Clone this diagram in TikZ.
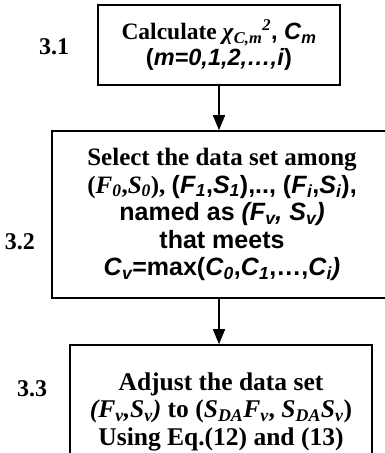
\documentclass[tikz,border=0pt]{standalone}
\usepackage{fontspec}
\setmainfont{Liberation Serif}
\setsansfont{Liberation Sans}
\usetikzlibrary{arrows.meta}
\newcommand\sub[1]{\textsubscript{#1}}
\newcommand\isub[1]{\textsubscript{\itshape #1}}
\begin{document}
\begin{tikzpicture}[x=1pt,y=-1pt,
  box/.style={draw,line width=1.6pt,inner sep=0pt,align=center},
  lab/.style={font=\rmfamily\bfseries\fontsize{24}{28}\selectfont},
  conn/.style={line width=1.6pt,-{Triangle[length=15pt,width=12pt]}}]
\useasboundingbox (0,0) rectangle (385,453);
\clip (0,0) rectangle (385,453);
\node[box,minimum width=242pt,minimum height=80pt,
  font=\bfseries\fontsize{23.5}{25.5}\selectfont] (b1) at (219,45)
  {\rmfamily Calculate \textit{χ}\isub{C,m}\textsuperscript{\itshape 2}\sffamily, \textit{C}\isub{m}\\
   \sffamily(\textit{m=0,1,2,…,i})};
\node[box,minimum width=340pt,minimum height=167pt,
  font=\bfseries\fontsize{25}{27.5}\selectfont] (b2) at (222,214.5)
  {\rmfamily Select the data set among\\
   \rmfamily(\textit{F}\isub{0},\textit{S}\isub{0}), \sffamily(\textit{F}\isub{1},\textit{S}\isub{1}),.., (\textit{F}\isub{i},\textit{S}\isub{i}),\\
   \sffamily named as \textit{(F\sub{v}, S\sub{v})}\\
   \sffamily that meets\\
   \sffamily\textit{C}\isub{v}=max(\textit{C}\isub{0},\textit{C}\isub{1},…,\textit{C}\isub{i}\textit{)}};
\node[box,minimum width=302pt,minimum height=133pt,
  font=\rmfamily\bfseries\fontsize{25.5}{27.5}\selectfont] (b3) at (221,411.5)
  {Adjust the data set\\
   \textit{(F\sub{ν},S\sub{ν})} to (\textit{S}\isub{DA}\textit{F}\isub{ν}, \textit{S}\isub{DA}\textit{S}\isub{ν})\\
   Using Eq.(12) and (13)};
\node[lab] (l1) at (54,47) {3.1};
\node[lab] (l2) at (20,242) {3.2};
\node[lab] (l3) at (32,389) {3.3};
\draw[conn] (b1.south) -- (b1.south |- b2.north);
\draw[conn] (b1.south |- b2.south) -- (b1.south |- b3.north);
\end{tikzpicture}
\end{document}
